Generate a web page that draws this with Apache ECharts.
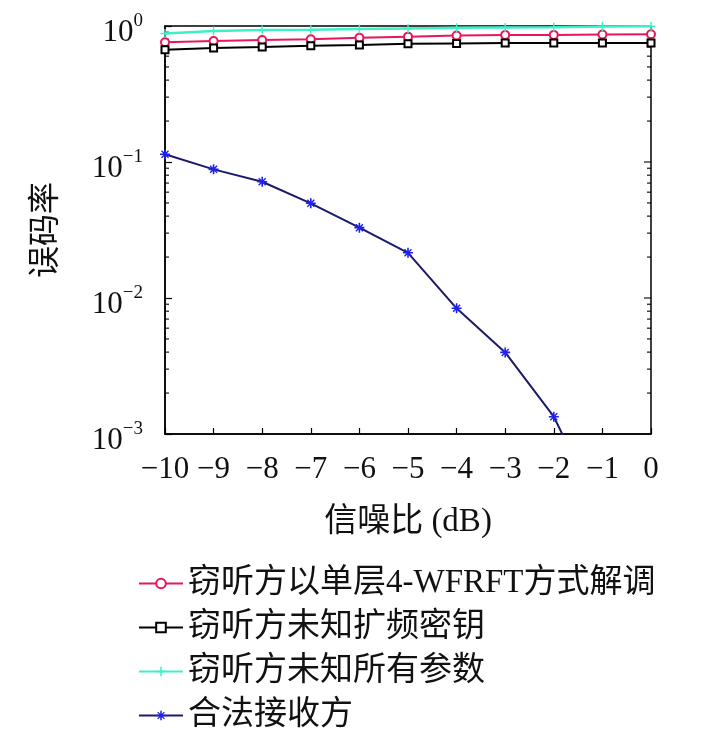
<!DOCTYPE html>
<html>
<head>
<meta charset="utf-8">
<script src="https://cdn.jsdelivr.net/npm/echarts@6/dist/echarts.min.js"></script>
<style>
  html, body { margin: 0; padding: 0; background: #fff; }
  #chart { width: 708px; height: 733px; }
</style>
</head>
<body>
<div id="chart"></div>
<script>
// SNR points (dB)
const snr = [-10, -9, -8, -7, -6, -5, -4, -3, -2, -1, 0];

// BER curves
const berSingleLayer = [0.76, 0.775, 0.79, 0.80, 0.82, 0.835, 0.85, 0.86, 0.86, 0.865, 0.87];
const berNoSpreadKey = [0.67, 0.69, 0.70, 0.715, 0.725, 0.74, 0.745, 0.75, 0.75, 0.75, 0.75];
const berNoParams = [0.88, 0.92, 0.935, 0.94, 0.95, 0.96, 0.97, 0.975, 0.98, 0.99, 0.995];
const berLegal = [0.114, 0.0883, 0.0716, 0.0497, 0.0329, 0.0215, 0.0084, 0.00398, 0.00134, 0.00025, null];

const seriesNames = ['窃听方以单层4-WFRFT方式解调', '窃听方未知扩频密钥', '窃听方未知所有参数', '合法接收方'];
const minorTickValues = [2, 3, 4, 5, 6, 7, 8, 9];
const decades = [-3, -2, -1];

const latin = '"Liberation Serif", "Noto Sans CJK SC", serif';
const plusIcon = 'path://M4.2,0H5.8V4.2H10V5.8H5.8V10H4.2V5.8H0V4.2H4.2Z';
const starIcon = 'path://M0,4.2H10V5.8H0Z M4.2,0H5.8V10H4.2Z M1,2L2,1L9,8L8,9Z M8,1L9,2L2,9L1,8Z';

function pairs(vals) {
    return snr.map((x, i) => [x, vals[i]]);
}

// [value, tick length] : minor ticks inside each decade, plus major ticks for the right frame
let frameTicks = [];
decades.forEach(d => minorTickValues.forEach(m => frameTicks.push([m * Math.pow(10, d), 4])));
[0.01, 0.1].forEach(v => frameTicks.push([v, 7]));

let chart = echarts.init(document.getElementById('chart'));

function yLabel(v) {
    let e = Math.round(Math.log10(v));
    return '{b|10}{s|' + (e < 0 ? '\u2212' + (-e) : e) + '}';
}

let option = {
    backgroundColor: '#fff',
    animation: false,
    grid: { left: 165, right: 57, top: 26, bottom: 299, show: true, borderColor: '#000', borderWidth: 1.5 },
    legend: {
        orient: 'vertical',
        left: 138,
        top: 567,
        padding: 0,
        itemWidth: 44,
        itemHeight: 12,
        itemGap: 11,
        data: seriesNames,
        textStyle: { fontFamily: latin, fontSize: 33, color: '#111', lineHeight: 33 }
    },
    xAxis: {
        type: 'value',
        min: -10,
        max: 0,
        interval: 1,
        name: '信噪比 (dB)',
        nameLocation: 'middle',
        nameGap: 72,
        nameTextStyle: { fontFamily: latin, fontSize: 33, color: '#111' },
        axisLine: { onZero: false, lineStyle: { color: '#000', width: 1.5 } },
        axisTick: { inside: true, length: 6, lineStyle: { color: '#000', width: 1.2 } },
        axisLabel: {
            margin: 20,
            fontFamily: latin,
            fontSize: 31,
            color: '#111',
            formatter: v => String(v).replace('-', '\u2212')
        },
        splitLine: { show: false }
    },
    yAxis: {
        type: 'log',
        logBase: 10,
        min: 0.001,
        max: 1,
        name: '误码率',
        nameLocation: 'middle',
        nameRotate: 90,
        nameGap: 102,
        nameTextStyle: { fontFamily: latin, fontSize: 32, color: '#111' },
        axisLine: { show: true, onZero: false, lineStyle: { color: '#000', width: 1.5 } },
        axisTick: { inside: true, length: 7, lineStyle: { color: '#000', width: 1.2 } },
        splitLine: { show: false },
        axisLabel: {
            margin: 22,
            padding: [8, 0, 0, 0],
            formatter: yLabel,
            rich: {
                b: { fontFamily: latin, fontSize: 31, color: '#111', lineHeight: 36, verticalAlign: 'bottom' },
                s: { fontFamily: latin, fontSize: 19, color: '#111', lineHeight: 18, verticalAlign: 'top' }
            }
        }
    },
    series: [
        {
            name: seriesNames[0],
            type: 'line',
            data: pairs(berSingleLayer),
            symbol: 'emptyCircle',
            symbolSize: 8,
            itemStyle: { color: '#e8175d', borderWidth: 1.5 },
            lineStyle: { color: '#e8175d', width: 2 }
        },
        {
            name: seriesNames[1],
            type: 'line',
            data: pairs(berNoSpreadKey),
            symbol: 'emptyRect',
            symbolSize: 7,
            itemStyle: { color: '#000', borderWidth: 1.5 },
            lineStyle: { color: '#000', width: 2 }
        },
        {
            name: seriesNames[2],
            type: 'line',
            data: pairs(berNoParams),
            symbol: plusIcon,
            symbolSize: 9,
            itemStyle: { color: '#3ef0c8' },
            lineStyle: { color: '#3ef0c8', width: 2.5 }
        },
        {
            name: seriesNames[3],
            type: 'line',
            data: pairs(berLegal),
            symbol: starIcon,
            symbolSize: 10,
            clip: true,
            itemStyle: { color: '#2020f0' },
            lineStyle: { color: '#1a1a6a', width: 2 }
        },
        {
            // log-axis minor ticks (both sides) and right-frame major ticks
            type: 'custom',
            silent: true,
            data: frameTicks,
            encode: { y: 0 },
            renderItem: function (params, api) {
                let v = api.value(0);
                let len = api.value(1);
                let pl = api.coord([-10, v]);
                let pr = api.coord([0, v]);
                let kids = [
                    { type: 'line', shape: { x1: pr[0], y1: pr[1], x2: pr[0] - len, y2: pr[1] }, style: { stroke: '#000', lineWidth: 1.1 } }
                ];
                if (len < 6) {
                    kids.push({ type: 'line', shape: { x1: pl[0], y1: pl[1], x2: pl[0] + len, y2: pl[1] }, style: { stroke: '#000', lineWidth: 1.1 } });
                }
                return { type: 'group', children: kids };
            }
        }
    ]
};

chart.setOption(option);
</script>
</body>
</html>
